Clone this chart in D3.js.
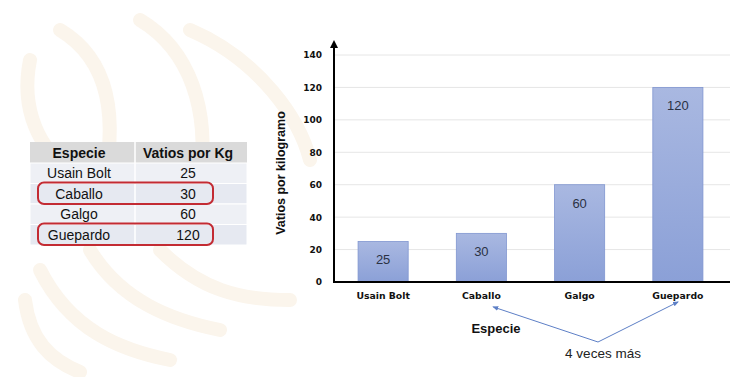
<!DOCTYPE html>
<html>
<head>
<meta charset="utf-8">
<script src="https://cdn.jsdelivr.net/npm/d3@7/dist/d3.min.js"></script>
<style>
  html, body { margin: 0; padding: 0; background: #ffffff; }
  svg { display: block; font-family: Arial, "Liberation Sans", sans-serif; }
</style>
</head>
<body>
<svg id="chart" width="733" height="377"></svg>
<script>
// Species and their power-to-weight ratio (watts per kilogram)
const species = ["Usain Bolt", "Caballo", "Galgo", "Guepardo"];
const wattsPerKg = [25, 30, 60, 120];
const yTicks = [0, 20, 40, 60, 80, 100, 120, 140];
const tableHeaders = ["Especie", "Vatios por Kg"];
const highlighted = ["Caballo", "Guepardo"];
const annotation = "4 veces más";

const svg = d3.select("#chart");

// faint decorative background strokes
const deco = svg.append("g").attr("fill", "none").attr("stroke", "#fbf5ec")
  .attr("stroke-linecap", "round");
const decoPaths = [
  "M30,60 C20,110 40,150 70,170",
  "M60,30 C110,60 120,120 100,200",
  "M140,20 C190,50 210,110 200,180",
  "M190,30 C260,60 300,120 310,160",
  "M40,270 C70,330 120,350 170,360",
  "M90,250 C120,300 170,320 220,330",
  "M160,250 C200,290 240,300 290,300",
  "M25,300 C30,340 50,360 80,372"
];
deco.selectAll("path").data(decoPaths).join("path")
  .attr("d", d => d).attr("stroke-width", 14);

// ---- Data table ----
const tX = 30, tY = 142, colW = [105, 112], headH = 21, rowH = 20.5;
const tbl = svg.append("g");
tbl.append("rect").attr("x", tX).attr("y", tY).attr("width", colW[0] + colW[1]).attr("height", headH)
  .attr("fill", "#dadada");
species.forEach((s, i) => {
  tbl.append("rect").attr("x", tX).attr("y", tY + headH + i * rowH)
    .attr("width", colW[0] + colW[1]).attr("height", rowH)
    .attr("fill", i % 2 === 0 ? "#eef0f5" : "#e6e9f1")
    .attr("stroke", "#ffffff").attr("stroke-width", 1);
});
tbl.append("line").attr("x1", tX + colW[0]).attr("x2", tX + colW[0])
  .attr("y1", tY).attr("y2", tY + headH + species.length * rowH)
  .attr("stroke", "#ffffff").attr("stroke-width", 1.5);
const colCx = [79, 188];
tableHeaders.forEach((h, j) => {
  tbl.append("text").attr("x", colCx[j]).attr("y", tY + headH / 2 + 5)
    .attr("text-anchor", "middle").attr("font-size", 14).attr("font-weight", "bold")
    .attr("fill", "#111").text(h);
});
species.forEach((s, i) => {
  const cy = tY + headH + i * rowH + rowH / 2 + 5;
  tbl.append("text").attr("x", colCx[0]).attr("y", cy).attr("text-anchor", "middle")
    .attr("font-size", 14).attr("fill", "#111").text(s);
  tbl.append("text").attr("x", colCx[1]).attr("y", cy).attr("text-anchor", "middle")
    .attr("font-size", 14).attr("fill", "#111").text(wattsPerKg[i]);
});
highlighted.forEach(h => {
  const i = species.indexOf(h);
  tbl.append("rect").attr("x", 38).attr("y", tY + headH + i * rowH - 1)
    .attr("width", 175).attr("height", rowH + 1).attr("rx", 6)
    .attr("fill", "none").attr("stroke", "#c32b33").attr("stroke-width", 2);
});

// ---- Bar chart ----
const x0 = 334, x1 = 730, yBase = 282, yTop = 55;
const x = d3.scaleBand().domain(species).range([x0, 727]).paddingInner(0.49).paddingOuter(0.245);
const y = d3.scaleLinear().domain([0, 140]).range([yBase, yTop]);

const defs = svg.append("defs");
const grad = defs.append("linearGradient").attr("id", "barGrad")
  .attr("x1", 0).attr("y1", 0).attr("x2", 0).attr("y2", 1);
grad.append("stop").attr("offset", "0%").attr("stop-color", "#a9b8e1");
grad.append("stop").attr("offset", "100%").attr("stop-color", "#8ba0d7");
defs.append("marker").attr("id", "axisArrow").attr("viewBox", "0 0 10 10")
  .attr("refX", 5).attr("refY", 5).attr("markerWidth", 4).attr("markerHeight", 4)
  .attr("orient", "auto").append("path").attr("d", "M0,0 L10,5 L0,10 z").attr("fill", "#000");
defs.append("marker").attr("id", "blueArrow").attr("viewBox", "0 0 10 10")
  .attr("refX", 8).attr("refY", 5).attr("markerWidth", 6).attr("markerHeight", 6)
  .attr("orient", "auto").append("path").attr("d", "M0,1 L10,5 L0,9 z").attr("fill", "#5d7fc6");

// gridlines
svg.append("g").selectAll("line").data(yTicks.filter(t => t > 0)).join("line")
  .attr("x1", x0).attr("x2", x1).attr("y1", d => y(d)).attr("y2", d => y(d))
  .attr("stroke", "#e6e6e6").attr("stroke-width", 1);

// y axis tick labels
const yAxis = svg.append("g").attr("transform", `translate(${x0},0)`)
  .call(d3.axisLeft(y).tickValues(yTicks).tickSize(0).tickPadding(12));
yAxis.select(".domain").remove();
yAxis.selectAll("text").attr("font-weight", "bold")
  .attr("fill", "#111").attr("font-family", "Verdana, 'DejaVu Sans', sans-serif")
  .attr("font-size", 9);

// bars
svg.append("g").selectAll("rect").data(species).join("rect")
  .attr("x", d => x(d)).attr("width", x.bandwidth())
  .attr("y", (d, i) => y(wattsPerKg[i])).attr("height", (d, i) => yBase - y(wattsPerKg[i]))
  .attr("fill", "url(#barGrad)").attr("stroke", "#8096d0").attr("stroke-width", 0.8);

// value labels
svg.append("g").selectAll("text").data(species).join("text")
  .attr("x", d => x(d) + x.bandwidth() / 2)
  .attr("y", (d, i) => y(wattsPerKg[i]) + 23)
  .attr("text-anchor", "middle").attr("font-size", 13).attr("fill", "#2b3244")
  .text((d, i) => wattsPerKg[i]);

// axes lines
svg.append("line").attr("x1", x0).attr("x2", x0).attr("y1", yBase).attr("y2", 44)
  .attr("stroke", "#000").attr("stroke-width", 2).attr("marker-end", "url(#axisArrow)");
svg.append("line").attr("x1", x0 - 1).attr("x2", x1).attr("y1", yBase).attr("y2", yBase)
  .attr("stroke", "#000").attr("stroke-width", 2);

// x category labels
const xAxis = svg.append("g").attr("transform", `translate(0,${yBase})`)
  .call(d3.axisBottom(x).tickSize(0).tickPadding(10));
xAxis.select(".domain").remove();
xAxis.selectAll("text").attr("font-size", 9.3).attr("font-weight", "bold")
  .attr("fill", "#111").attr("font-family", "Verdana, 'DejaVu Sans', sans-serif");

// axis titles
svg.append("text").attr("transform", "translate(285,173) rotate(-90)")
  .attr("text-anchor", "middle").attr("font-size", 12.5).attr("font-weight", "bold")
  .attr("fill", "#111").text("Vatios por kilogramo");
svg.append("text").attr("x", 496).attr("y", 333).attr("text-anchor", "middle")
  .attr("font-size", 13).attr("font-weight", "bold").attr("fill", "#111").text("Especie");

// annotation arrows
const ax = 598, ay = 342;
const tgt = [[x("Caballo") + x.bandwidth() / 2 + 12, 307], [x("Guepardo") + x.bandwidth() / 2, 302]];
svg.append("g").selectAll("line").data(tgt).join("line")
  .attr("x1", ax).attr("y1", ay).attr("x2", d => d[0]).attr("y2", d => d[1])
  .attr("stroke", "#5d7fc6").attr("stroke-width", 1).attr("marker-end", "url(#blueArrow)");
svg.append("text").attr("x", 603).attr("y", 358).attr("text-anchor", "middle")
  .attr("font-size", 13.5).attr("fill", "#222").text(annotation);
</script>
</body>
</html>
